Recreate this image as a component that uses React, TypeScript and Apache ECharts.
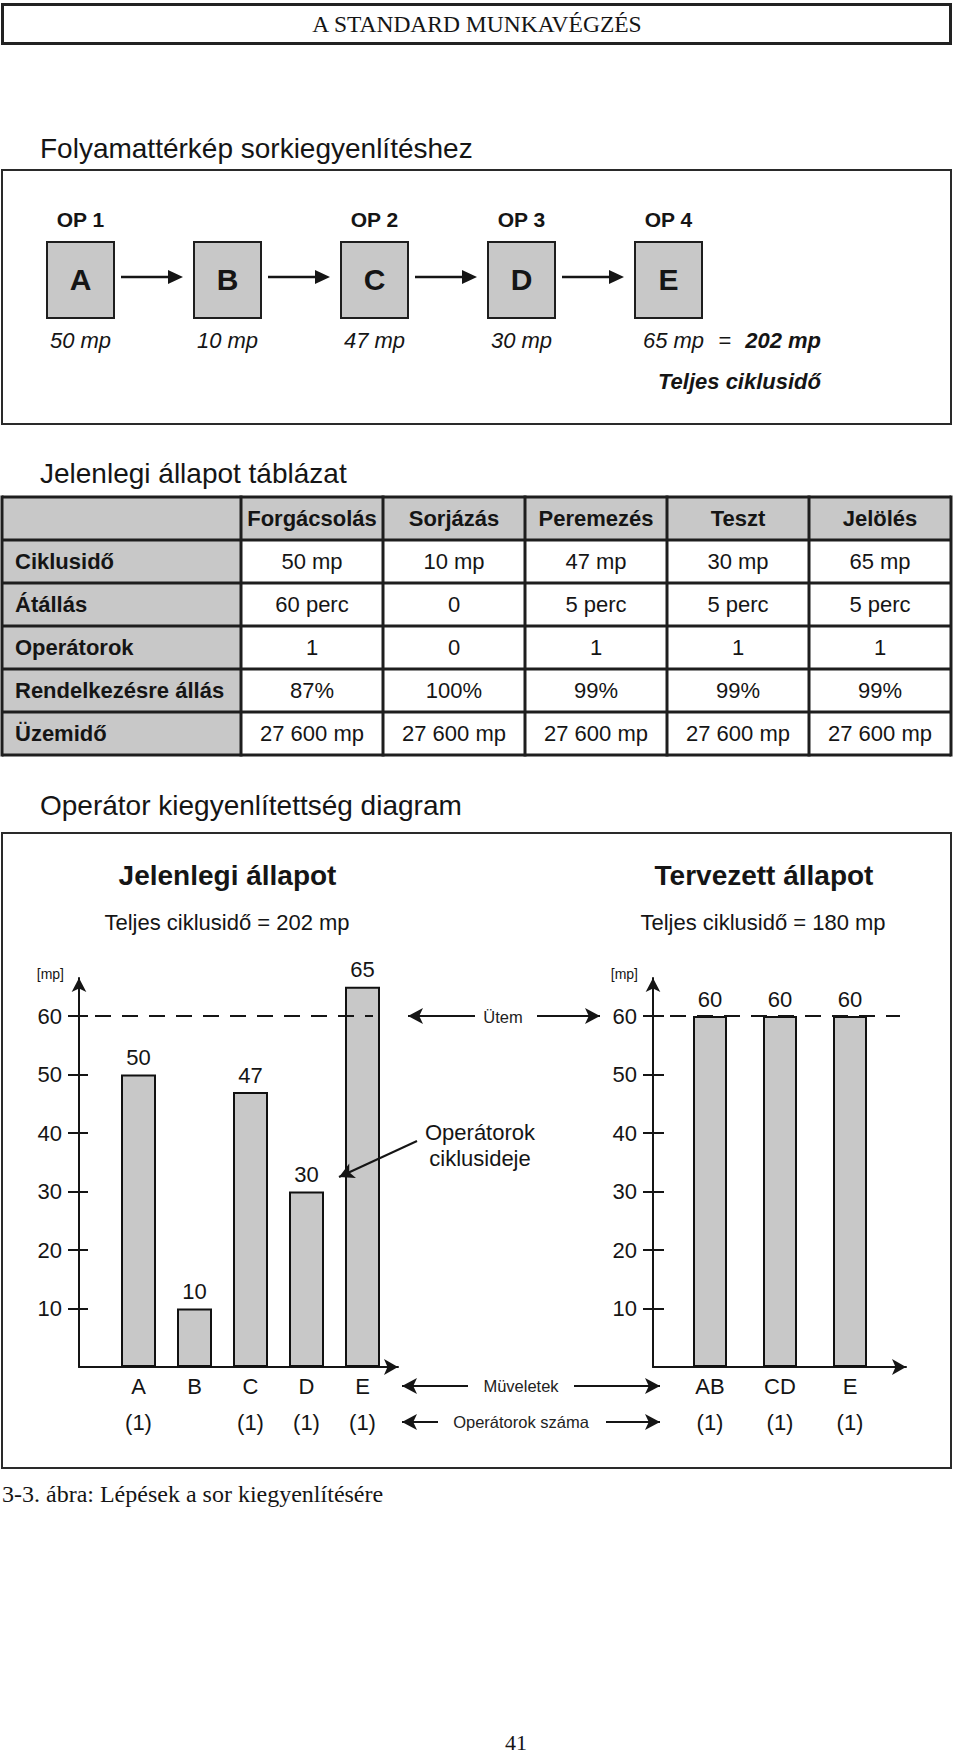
import React, { useEffect, useRef } from 'react';
import * as echarts from 'echarts';

// ---------- data ----------
const pageHeader = 'A STANDARD MUNKAVÉGZÉS';
const flowTitle = 'Folyamattérkép sorkiegyenlítéshez';
const flowOps = ['OP 1', '', 'OP 2', 'OP 3', 'OP 4'];
const flowSteps = ['A', 'B', 'C', 'D', 'E'];
const flowTimes = [50, 10, 47, 30, 65];
const flowTotal = 202;

const tableTitle = 'Jelenlegi állapot táblázat';
const tableColumns = ['Forgácsolás', 'Sorjázás', 'Peremezés', 'Teszt', 'Jelölés'];
const tableRowLabels = ['Ciklusidő', 'Átállás', 'Operátorok', 'Rendelkezésre állás', 'Üzemidő'];
const cycleTimeRow = ['50 mp', '10 mp', '47 mp', '30 mp', '65 mp'];
const changeoverRow = ['60 perc', '0', '5 perc', '5 perc', '5 perc'];
const operatorRow = ['1', '0', '1', '1', '1'];
const availabilityRow = ['87%', '100%', '99%', '99%', '99%'];
const uptimeRow = ['27 600 mp', '27 600 mp', '27 600 mp', '27 600 mp', '27 600 mp'];

const diagramTitle = 'Operátor kiegyenlítettség diagram';
const currentTitle = 'Jelenlegi állapot';
const plannedTitle = 'Tervezett állapot';
const currentSteps = ['A', 'B', 'C', 'D', 'E'];
const currentValues = [50, 10, 47, 30, 65];
const currentOperators = [1, 0, 1, 1, 1];
const currentTotal = 202;
const plannedSteps = ['AB', 'CD', 'E'];
const plannedValues = [60, 60, 60];
const plannedOperators = [1, 1, 1];
const plannedTotal = 180;
const taktTime = 60;
const yTicks = [10, 20, 30, 40, 50, 60];
const yMax = 66.5;

const caption = '3-3. ábra: Lépések a sor kiegyenlítésére';
const pageNumber = '41';

// ---------- styles ----------
const SANS = "'Liberation Sans', Arial, Helvetica, sans-serif";
const SERIF = "'Liberation Serif', 'Times New Roman', serif";
const INK = '#151515';
const GRAY = '#c8c8c8';

function txt(x: number, y: number, text: string, o: any = {}) {
  return {
    type: 'text',
    x,
    y,
    silent: true,
    style: {
      text,
      fill: o.fill || INK,
      fontSize: o.fontSize || 22,
      fontFamily: o.fontFamily || SANS,
      fontWeight: o.fontWeight || 'normal',
      fontStyle: o.fontStyle || 'normal',
      align: o.align || 'center',
      verticalAlign: o.verticalAlign || 'middle',
      lineHeight: o.lineHeight,
    },
  };
}

function buildGraphics() {
  const els: any[] = [];
  // header
  els.push({ type: 'rect', shape: { x: 2.5, y: 4.5, width: 948, height: 39 }, style: { fill: 'none', stroke: '#222', lineWidth: 3 } });
  els.push(txt(477, 24, pageHeader, { fontFamily: SERIF, fontSize: 23.5 }));

  // ---- flow map ----
  els.push(txt(40, 148, flowTitle, { fontSize: 28, align: 'left' }));
  els.push({ type: 'rect', shape: { x: 2, y: 170, width: 949, height: 254 }, style: { fill: 'none', stroke: '#2a2a2a', lineWidth: 2 } });
  const fx0 = 80.5, fdx = 147, bw = 67, btop = 242, bh = 76;
  flowSteps.forEach((s, i) => {
    const cx = fx0 + i * fdx;
    els.push({ type: 'rect', shape: { x: cx - bw / 2, y: btop, width: bw, height: bh }, style: { fill: GRAY, stroke: '#1e1e1e', lineWidth: 2 } });
    els.push(txt(cx, 279, s, { fontSize: 30, fontWeight: 'bold' }));
    if (flowOps[i]) els.push(txt(cx, 219, flowOps[i], { fontSize: 21, fontWeight: 'bold' }));
    const last = i === flowSteps.length - 1;
    els.push(txt(last ? cx + 5 : cx, 340, flowTimes[i] + ' mp', { fontSize: 22, fontStyle: 'italic' }));
    if (!last) {
      const x1 = cx + bw / 2 + 7;
      const tip = cx + fdx - bw / 2 - 11;
      els.push({ type: 'line', shape: { x1, y1: 277, x2: tip - 10, y2: 277 }, style: { stroke: INK, lineWidth: 2.5 } });
      els.push({ type: 'polygon', shape: { points: [[tip, 277], [tip - 15, 270], [tip - 15, 284]] }, style: { fill: INK } });
    }
  });
  els.push(txt(725, 340, '=', { fontSize: 22 }));
  els.push(txt(821, 340, flowTotal + ' mp', { fontSize: 22, fontStyle: 'italic', fontWeight: 'bold', align: 'right' }));
  els.push(txt(821, 381, 'Teljes ciklusidő', { fontSize: 22, fontStyle: 'italic', fontWeight: 'bold', align: 'right' }));

  // ---- table ----
  els.push(txt(40, 473, tableTitle, { fontSize: 28, align: 'left' }));
  const xs = [2, 241, 383, 525, 667, 809, 951];
  const top = 497, rh = 43;
  const rows = [cycleTimeRow, changeoverRow, operatorRow, availabilityRow, uptimeRow];
  const bottom = top + rh * (rows.length + 1);
  els.push({ type: 'rect', shape: { x: xs[0], y: top, width: xs[6] - xs[0], height: bottom - top }, style: { fill: '#fff' } });
  els.push({ type: 'rect', shape: { x: xs[0], y: top, width: xs[6] - xs[0], height: rh }, style: { fill: GRAY } });
  els.push({ type: 'rect', shape: { x: xs[0], y: top, width: xs[1] - xs[0], height: bottom - top }, style: { fill: GRAY } });
  tableColumns.forEach((c, j) => {
    els.push(txt((xs[j + 1] + xs[j + 2]) / 2, top + rh / 2, c, { fontSize: 22, fontWeight: 'bold' }));
  });
  rows.forEach((r, i) => {
    const cy = top + rh * (i + 1) + rh / 2;
    els.push(txt(15, cy, tableRowLabels[i], { fontSize: 22, fontWeight: 'bold', align: 'left' }));
    r.forEach((v, j) => {
      els.push(txt((xs[j + 1] + xs[j + 2]) / 2, cy, v, { fontSize: 22 }));
    });
  });
  for (let i = 0; i <= rows.length + 1; i++) {
    const y = top + rh * i;
    els.push({ type: 'line', shape: { x1: xs[0], y1: y, x2: xs[6], y2: y }, style: { stroke: '#1e1e1e', lineWidth: 3 } });
  }
  xs.forEach((x) => {
    els.push({ type: 'line', shape: { x1: x, y1: top - 1.5, x2: x, y2: bottom + 1.5 }, style: { stroke: '#1e1e1e', lineWidth: 3 } });
  });

  // ---- diagram ----
  els.push(txt(40, 805, diagramTitle, { fontSize: 28, align: 'left' }));
  els.push({ type: 'rect', shape: { x: 2, y: 833, width: 949, height: 635 }, style: { fill: 'none', stroke: '#2a2a2a', lineWidth: 2 } });
  els.push(txt(227.5, 875, currentTitle, { fontSize: 28, fontWeight: 'bold' }));
  els.push(txt(227, 922, 'Teljes ciklusidő = ' + currentTotal + ' mp', { fontSize: 22 }));
  els.push(txt(764, 875, plannedTitle, { fontSize: 28, fontWeight: 'bold' }));
  els.push(txt(763, 922, 'Teljes ciklusidő = ' + plannedTotal + ' mp', { fontSize: 22 }));
  els.push(txt(503, 1017, 'Ütem', { fontSize: 16.5, fill: '#222' }));
  els.push(txt(521, 1386, 'Müveletek', { fontSize: 16.5, fill: '#222' }));
  els.push(txt(521, 1422, 'Operátorok száma', { fontSize: 16.5, fill: '#222' }));
  els.push(txt(480, 1145, 'Operátorok\nciklusideje', { fontSize: 22, lineHeight: 26 }));

  // caption & page number
  els.push(txt(2, 1494, caption, { fontFamily: SERIF, fontSize: 24, align: 'left' }));
  els.push(txt(516, 1742, pageNumber, { fontFamily: SERIF, fontSize: 22 }));
  return els;
}

const axisInk = { color: INK, width: 2 };

function frameX(gridIndex: number) {
  return {
    gridIndex, type: 'value', min: 0, max: 1, position: 'bottom',
    axisLine: { show: true, onZero: false, symbol: ['none', 'arrow'], symbolSize: [12, 14], lineStyle: axisInk },
    axisTick: { show: false }, axisLabel: { show: false }, splitLine: { show: false },
  };
}
function catX(gridIndex: number, data: string[], ops?: number[]) {
  return {
    gridIndex, type: 'category', data, position: 'bottom', offset: ops ? 36 : 0,
    axisLine: { show: false }, axisTick: { show: false }, splitLine: { show: false },
    axisLabel: {
      interval: 0, fontSize: 22, color: INK, fontFamily: SANS, margin: 8,
      formatter: ops ? (_v: string, i: number) => (ops[i] ? '(' + ops[i] + ')' : '') : undefined,
    },
  };
}
function frameY(gridIndex: number, outLen: number, labelMargin: number) {
  return {
    gridIndex, type: 'value', min: 0, max: yMax, position: 'left',
    name: '[mp]', nameLocation: 'end', nameGap: 4, nameMoveOverlap: false,
    nameTextStyle: { fontSize: 14, color: INK, fontFamily: SANS, align: 'right', verticalAlign: 'middle', padding: [0, 15, 0, 0] },
    axisLine: { show: true, onZero: false, symbol: ['none', 'arrow'], symbolSize: [11, 14], lineStyle: axisInk },
    axisTick: { show: true, length: outLen, customValues: yTicks, lineStyle: axisInk },
    axisLabel: { show: true, customValues: yTicks, fontSize: 22, color: INK, fontFamily: SANS, margin: labelMargin },
    splitLine: { show: false },
  };
}
function innerTickY(gridIndex: number, len: number) {
  return {
    gridIndex, type: 'value', min: 0, max: yMax, position: 'left',
    axisLine: { show: false },
    axisTick: { show: true, inside: true, length: len, customValues: yTicks, lineStyle: axisInk },
    axisLabel: { show: false }, splitLine: { show: false },
  };
}
function hiddenY(gridIndex: number) {
  return { gridIndex, type: 'value', min: 0, max: yMax, position: 'left', show: false, splitLine: { show: false } };
}

function arrowPair(x1: number, y1: any, x2: number, y2: any) {
  const a: any = { x: x1, symbol: 'none' };
  const b: any = { x: x2, symbol: 'arrow', symbolSize: [12, 15] };
  if (typeof y1 === 'number') a.y = y1; else a.yAxis = y1.v;
  if (typeof y2 === 'number') b.y = y2; else b.yAxis = y2.v;
  return [a, b];
}

function buildOption() {
  const barStyle = { color: GRAY, borderColor: '#111', borderWidth: 2 };
  const barLabel = { show: true, position: 'top', distance: 6, fontSize: 22, color: INK, fontFamily: SANS };
  const ml = (data: any[]) => ({
    silent: true, animation: false, symbol: ['none', 'none'],
    label: { show: false }, emphasis: { disabled: true },
    lineStyle: { type: 'solid', color: INK, width: 2 },
    data,
  });
  const dashed = (x1: number, x2: number) => [
    { x: x1, yAxis: taktTime, symbol: 'none', lineStyle: { type: [16, 11], color: INK, width: 2 } },
    { x: x2, yAxis: taktTime, symbol: 'none' },
  ];
  const T = { v: taktTime };
  return {
    animation: false,
    backgroundColor: '#ffffff',
    textStyle: { fontFamily: SANS },
    grid: [
      { left: 79, top: 978, width: 319, height: 389, containLabel: false },
      { left: 110.5, top: 978, width: 280, height: 389, containLabel: false },
      { left: 653, top: 978, width: 253, height: 389, containLabel: false },
      { left: 675, top: 978, width: 210, height: 389, containLabel: false },
    ],
    xAxis: [
      frameX(0),
      catX(1, currentSteps),
      catX(1, currentSteps, currentOperators),
      frameX(2),
      catX(3, plannedSteps),
      catX(3, plannedSteps, plannedOperators),
    ],
    yAxis: [
      frameY(0, 11, 17),
      innerTickY(0, 9),
      hiddenY(1),
      frameY(2, 10, 16),
      innerTickY(2, 11),
      hiddenY(3),
    ],
    graphic: { elements: buildGraphics() },
    series: [
      {
        type: 'bar', name: 'Jelenlegi', xAxisIndex: 1, yAxisIndex: 2,
        data: currentValues, barWidth: 35, itemStyle: barStyle, label: barLabel,
        emphasis: { disabled: true }, silent: true,
        markLine: ml([
          dashed(68, 373),
          arrowPair(475, T, 408, T),
          arrowPair(417, 1141, 339, 1177),
          arrowPair(468, 1386, 402, 1386),
          arrowPair(438, 1422, 402, 1422),
        ]),
      },
      {
        type: 'bar', name: 'Tervezett', xAxisIndex: 4, yAxisIndex: 5,
        data: plannedValues, barWidth: 34, itemStyle: barStyle, label: barLabel,
        emphasis: { disabled: true }, silent: true,
        markLine: ml([
          dashed(643, 900),
          arrowPair(537, T, 600, T),
          arrowPair(574, 1386, 660, 1386),
          arrowPair(606, 1422, 660, 1422),
        ]),
      },
    ],
  };
}

export default function App() {
  const ref = useRef<HTMLDivElement>(null);
  useEffect(() => {
    document.body.style.margin = '0';
    const chart = echarts.init(ref.current as HTMLDivElement, null, { renderer: 'svg', width: 960, height: 1762 });
    chart.setOption(buildOption() as any);
    return () => chart.dispose();
  }, []);
  return <div ref={ref} style={{ width: 960, height: 1762, background: '#fff' }} />;
}
